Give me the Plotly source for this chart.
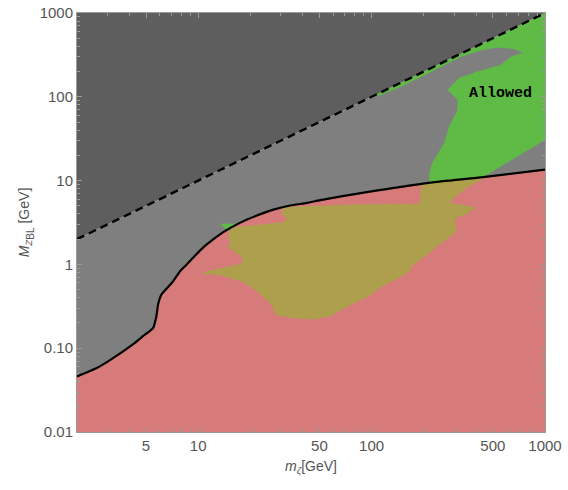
import math
import plotly.graph_objects as go

# ---------------- data ----------------
x_range = [2, 1000]
y_range = [0.01, 1000]

# dashed line  M_Z = m_zeta
diag_m = [2, 1000]
diag_M = [2, 1000]

# solid black boundary curve
bound_m = [2.0, 2.6, 3.1, 4.2, 4.8, 5.5, 5.75, 5.87, 6.14, 6.5, 7.17, 7.84, 8.6,
           10.2, 11.2, 13.95, 17.4, 21.8, 27.2, 33.9, 42.4, 50.7, 90, 219, 427, 1000]
bound_M = [0.046, 0.058, 0.072, 0.111, 0.139, 0.175, 0.246, 0.333, 0.438, 0.502, 0.63,
           0.823, 1.0, 1.45, 1.73, 2.43, 3.13, 3.83, 4.51, 5.04, 5.42, 5.85, 7.19, 9.47,
           10.9, 13.5]

# olive region
olive_m = [15.5, 31.0, 33.2, 31.0, 31.0, 86.3, 188, 192, 196, 300, 446, 357, 286, 273,
           390, 357, 299, 299, 306, 250, 200, 168, 164, 141, 113, 94.3, 86.3, 69.1,
           57.8, 46.1, 35.5, 28.4, 26.6, 22.2, 18.2, 13.4, 10.7, 17.8, 18.2, 17.8,
           14.9, 15.6, 14.9]
olive_M = [2.70, 3.13, 3.59, 3.93, 4.73, 5.11, 5.17, 5.94, 9.1, 10.0, 10.9, 8.55, 5.94,
           5.42, 4.73, 4.12, 3.59, 3.27, 2.49, 1.81, 1.25, 0.952, 0.83, 0.692, 0.55,
           0.418, 0.382, 0.304, 0.246, 0.226, 0.231, 0.253, 0.333, 0.479, 0.631,
           0.758, 0.794, 1.0, 1.14, 1.25, 1.65, 1.81, 2.17]

# green "Allowed" region
green_m = [101, 1000, 1000, 440, 300, 215, 215, 224, 262, 280, 313, 313, 274, 320,
           408, 557, 636, 744, 665, 535, 427, 326, 210, 147, 108]
green_M = [101, 1000, 30.6, 11.0, 10.1, 9.4, 12.4, 16.3, 28.1, 44.4, 70.2, 92.3,
           121.5, 168, 201, 241, 303, 333, 371, 388, 357, 298, 188, 131, 101]

# small green sliver
sliver_m = [13.35, 16.3, 14.9]
sliver_M = [3.05, 3.05, 2.49]

label_text = "Allowed"
label_m, label_M = 557, 110

x_tickvals = [5, 10, 50, 100, 500, 1000]
x_ticktext = ["5", "10", "50", "100", "500", "1000"]
y_tickvals = [0.01, 0.1, 1, 10, 100, 1000]
y_ticktext = ["0.01", "0.10", "1", "10", "100", "1000"]
x_minor = [3, 4, 6, 7, 8, 9, 20, 30, 40, 60, 70, 80, 90, 200, 300, 400, 600, 700, 800, 900]
y_minor = [k * d for d in [0.01, 0.1, 1, 10, 100] for k in range(2, 10)]

# ---------------- colours ----------------
DARK = "#5e5e5e"
MID = "#7f7f7f"
PINK = "#d67b79"
OLIVE = "#ae9f4c"
OLIVE_EDGE = "#a8a44b"
GREEN = "#5fba46"
AXIS = "#9a9a9a"
TEXT = "#555555"

fig = go.Figure()

x0, x1 = x_range
y0, y1 = y_range

fig.add_trace(go.Scatter(x=[diag_m[0], diag_m[1], x0], y=[diag_M[0], diag_M[1], y1],
                         fill="toself", fillcolor=DARK, line=dict(width=0),
                         mode="lines", hoverinfo="skip", showlegend=False))
fig.add_trace(go.Scatter(x=diag_m + bound_m[::-1], y=diag_M + bound_M[::-1],
                         fill="toself", fillcolor=MID, line=dict(width=0),
                         mode="lines", hoverinfo="skip", showlegend=False))
fig.add_trace(go.Scatter(x=bound_m + [x1, x0], y=bound_M + [y0, y0],
                         fill="toself", fillcolor=PINK, line=dict(width=0),
                         mode="lines", hoverinfo="skip", showlegend=False))
fig.add_trace(go.Scatter(x=olive_m, y=olive_M, fill="toself", fillcolor=OLIVE,
                         line=dict(width=1.2, color=OLIVE_EDGE),
                         mode="lines", hoverinfo="skip", showlegend=False))
fig.add_trace(go.Scatter(x=green_m, y=green_M, fill="toself", fillcolor=GREEN,
                         line=dict(width=0), mode="lines", hoverinfo="skip", showlegend=False))
fig.add_trace(go.Scatter(x=sliver_m, y=sliver_M, fill="toself", fillcolor=GREEN,
                         line=dict(width=0), mode="lines", hoverinfo="skip", showlegend=False))
fig.add_trace(go.Scatter(x=diag_m, y=diag_M, mode="lines",
                         line=dict(color="black", width=2.4, dash="8px,5px"),
                         hoverinfo="skip", showlegend=False))
fig.add_trace(go.Scatter(x=bound_m, y=bound_M, mode="lines",
                         line=dict(color="black", width=2.2, shape="spline", smoothing=0.5),
                         hoverinfo="skip", showlegend=False))

fig.add_annotation(x=math.log10(label_m), y=math.log10(label_M), text="<b>" + label_text + "</b>",
                   showarrow=False, font=dict(family="Liberation Mono", size=15, color="black"))

axis_common = dict(
    type="log", showgrid=False, zeroline=False, showline=True, linecolor=AXIS,
    linewidth=1, mirror="allticks", ticks="inside", ticklen=5, tickcolor=AXIS,
    tickfont=dict(family="Liberation Sans", size=15, color=TEXT), automargin=False,
)

fig.update_xaxes(**axis_common, range=[math.log10(x0), math.log10(x1)],
                 tickvals=x_tickvals, ticktext=x_ticktext,
                 minor=dict(tickvals=x_minor, ticks="inside", ticklen=3, tickcolor=AXIS),
                 title=dict(text="<i>m</i><sub><i>ζ</i></sub>[GeV]",
                            font=dict(family="Liberation Sans", size=14, color=TEXT),
                            standoff=8))
fig.update_yaxes(**axis_common, range=[math.log10(y0), math.log10(y1)],
                 tickvals=y_tickvals, ticktext=y_ticktext,
                 minor=dict(tickvals=y_minor, ticks="inside", ticklen=3, tickcolor=AXIS),
                 title=dict(text="<i>M</i><sub><i>Z</i><sub><span style='font-size:10px'>BL</span></sub></sub> [GeV]",
                            font=dict(family="Liberation Sans", size=14, color=TEXT),
                            standoff=6))

fig.update_layout(width=568, height=490, autosize=False,
                  margin=dict(l=77, r=23, t=13, b=58),
                  paper_bgcolor="white", plot_bgcolor="white")

fig.write_html("out.html", config={"displayModeBar": False, "staticPlot": True})

# remove the browser's default page margin so the figure sits at the window origin
with open("out.html", "r", encoding="utf-8") as f:
    html = f.read()
html = html.replace("<body>", '<body style="margin:0;padding:0;">', 1)
with open("out.html", "w", encoding="utf-8") as f:
    f.write(html)
